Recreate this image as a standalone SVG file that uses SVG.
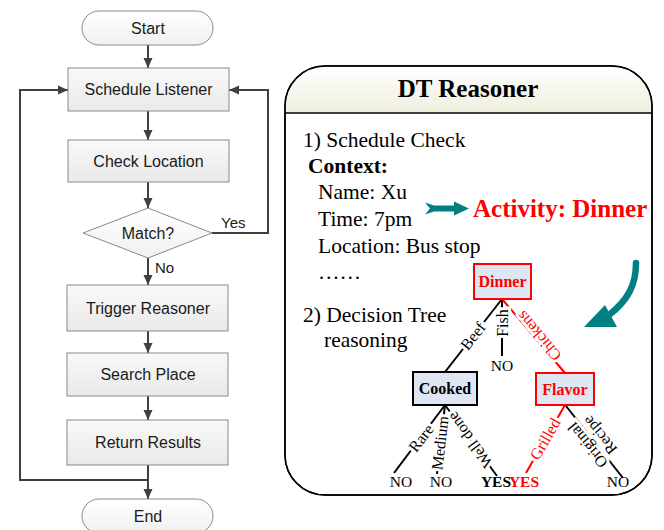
<svg xmlns="http://www.w3.org/2000/svg" width="664" height="530" viewBox="0 0 664 530">
<defs>
<linearGradient id="gbox" x1="0" y1="0" x2="0" y2="1"><stop offset="0" stop-color="#f9f9f9"/><stop offset="1" stop-color="#e9e9e9"/></linearGradient>
<linearGradient id="gterm" x1="0" y1="0" x2="0" y2="1"><stop offset="0" stop-color="#ffffff"/><stop offset="1" stop-color="#f0f0f0"/></linearGradient>
<linearGradient id="ghead" x1="0" y1="0" x2="0" y2="1"><stop offset="0" stop-color="#ffffff"/><stop offset="1" stop-color="#eeeede"/></linearGradient>
<marker id="ah" markerWidth="10" markerHeight="10" refX="10" refY="5" orient="auto" markerUnits="userSpaceOnUse"><path d="M0,0.5 L10,5 L0,9.5 Z" fill="#404040"/></marker>
</defs>
<style>
.box{fill:url(#gbox);stroke:#8a8a8a;stroke-width:1}
.term{fill:url(#gterm);stroke:#8a8a8a;stroke-width:1}
.ft{font-family:"Liberation Sans",Arial,sans-serif;font-size:16px;fill:#1a1a1a;text-anchor:middle}
.fl{font-family:"Liberation Sans",Arial,sans-serif;font-size:15px;fill:#1a1a1a}
.conn{fill:none;stroke:#404040;stroke-width:2}
.ser{font-family:"Liberation Serif","Times New Roman",serif;font-size:21.5px;fill:#000}
.tn{fill:#dde6f2;stroke-width:2}
.tb{font-family:"Liberation Serif","Times New Roman",serif;font-size:16px;font-weight:bold;text-anchor:middle}
.el{font-family:"Liberation Serif","Times New Roman",serif;font-size:16px;text-anchor:middle;dominant-baseline:central;paint-order:stroke;stroke:#fff;stroke-width:6px}
.lf{font-family:"Liberation Serif","Times New Roman",serif;font-size:15.5px;text-anchor:middle}
.tl{stroke-width:2;fill:none}
</style>

<g id="connectors">
<line class="conn" x1="148" y1="45" x2="148" y2="68" marker-end="url(#ah)"/>
<line class="conn" x1="148" y1="111" x2="148" y2="140" marker-end="url(#ah)"/>
<line class="conn" x1="148" y1="182" x2="148" y2="208" marker-end="url(#ah)"/>
<line class="conn" x1="148" y1="258" x2="148" y2="285" marker-end="url(#ah)"/>
<line class="conn" x1="148" y1="331" x2="148" y2="353" marker-end="url(#ah)"/>
<line class="conn" x1="148" y1="396" x2="148" y2="420" marker-end="url(#ah)"/>
<line class="conn" x1="148" y1="465" x2="148" y2="499" marker-end="url(#ah)"/>
<polyline class="conn" points="212,233 268,233 268,90 229,90" marker-end="url(#ah)"/>
<polyline class="conn" points="148,480 20,480 20,90 68,90" marker-end="url(#ah)"/>
<text class="fl" x="221" y="228">Yes</text>
<text class="fl" x="155" y="273">No</text>
</g>

<g id="start"><rect class="term" x="82" y="11" width="131" height="34" rx="17"/><text class="ft" x="148" y="33.5">Start</text></g>
<g id="schedule-listener"><rect class="box" x="68" y="68" width="161" height="43"/><text class="ft" x="148.5" y="95">Schedule Listener</text></g>
<g id="check-location"><rect class="box" x="68" y="140" width="161" height="42"/><text class="ft" x="148.5" y="166.5">Check Location</text></g>
<g id="match"><polygon class="term" points="148,208 212,233 148,258 83,233"/><text class="ft" x="148" y="238.5">Match?</text></g>
<g id="trigger-reasoner"><rect class="box" x="67" y="285" width="161" height="46"/><text class="ft" x="148" y="313.5">Trigger Reasoner</text></g>
<g id="search-place"><rect class="box" x="67" y="353" width="161" height="43"/><text class="ft" x="148" y="380">Search Place</text></g>
<g id="return-results"><rect class="box" x="67" y="420" width="161" height="45"/><text class="ft" x="148" y="448">Return Results</text></g>
<g id="end"><rect class="term" x="82" y="499" width="131" height="34" rx="17"/><text class="ft" x="148" y="522">End</text></g>

<g id="dt-reasoner">
<rect x="285" y="66" width="367" height="429" rx="40" fill="#fff" stroke="#000" stroke-width="1.5"/>
<path d="M285.75,113 V106 A40,40 0 0 1 325,66.75 H612 A40,40 0 0 1 651.25,106 V113 Z" fill="url(#ghead)"/>
<rect x="285" y="66" width="367" height="429" rx="40" fill="none" stroke="#000" stroke-width="1.5"/>
<line x1="285" y1="113" x2="652" y2="113" stroke="#000" stroke-width="1.5"/>
<text x="468" y="97" text-anchor="middle" style="font-family:'Liberation Serif','Times New Roman',serif;font-size:25px;font-weight:bold">DT Reasoner</text>
<text class="ser" x="303" y="147">1) Schedule Check</text>
<text class="ser" x="308" y="173" font-weight="bold">Context:</text>
<text class="ser" x="318" y="199">Name: Xu</text>
<text class="ser" x="318" y="226">Time: 7pm</text>
<text class="ser" x="318" y="253">Location: Bus stop</text>
<text class="ser" x="318" y="279">……</text>
<text class="ser" x="303" y="322">2) Decision Tree</text>
<text class="ser" x="324" y="347">reasoning</text>
<polygon points="425,202.5 434,205.5 454,205.5 454,201.5 469,208.5 454,215.5 454,211.5 434,211.5 425,214.5 430,208.5" fill="#008080"/>
<text x="473" y="217" style="font-family:'Liberation Serif','Times New Roman',serif;font-size:25px;font-weight:bold;fill:#ff0000">Activity: Dinner</text>
<path d="M636,263 C636,285 628,300 609,315" fill="none" stroke="#008080" stroke-width="6.5" stroke-linecap="round"/>
<polygon points="584,327 605,305 617,327" fill="#008080"/>
</g>

<g id="tree-edges">
<line class="tl" x1="502" y1="299" x2="445" y2="372" stroke="#000"/>
<line class="tl" x1="502" y1="299" x2="502" y2="356" stroke="#000"/>
<line class="tl" x1="502" y1="299" x2="565" y2="373" stroke="#ff0000"/>
<line class="tl" x1="445" y1="405" x2="394" y2="473" stroke="#000"/>
<line class="tl" x1="445" y1="405" x2="437" y2="474" stroke="#000"/>
<line class="tl" x1="445" y1="405" x2="497" y2="476" stroke="#000"/>
<line class="tl" x1="565" y1="405" x2="526" y2="473" stroke="#ff0000"/>
<line class="tl" x1="566" y1="406" x2="623" y2="478" stroke="#000"/>
<text class="el" transform="translate(473,336) rotate(-52)">Beef</text>
<text class="el" transform="translate(502,323) rotate(-90)">Fish</text>
<text class="el" transform="translate(539,336) rotate(-130)" fill="#ff0000">Chickens</text>
<text class="el" transform="translate(421,438) rotate(-53)">Rare</text>
<text class="el" transform="translate(440,443) rotate(-83)">Medium</text>
<text class="el" transform="translate(470,440) rotate(-126)">Well done</text>
<text class="el" transform="translate(545,439) rotate(-60)" fill="#ff0000">Grilled</text>
<text class="lf" transform="translate(594,440) rotate(-129)" style="font-size:16px;paint-order:stroke;stroke:#fff;stroke-width:6px"><tspan x="0" y="-3">Original</tspan><tspan x="0" y="13">Recipe</tspan></text>
<text class="lf" x="502" y="371">NO</text>
<text class="lf" x="401" y="487">NO</text>
<text class="lf" x="441" y="487">NO</text>
<text class="lf" x="496" y="487" font-weight="bold">YES</text>
<text class="lf" x="524" y="487" font-weight="bold" fill="#ff0000">YES</text>
<text class="lf" x="618" y="487">NO</text>
</g>

<g id="dinner"><rect class="tn" x="474" y="264" width="57" height="35" stroke="#ff0000"/><text class="tb" x="502.5" y="287" fill="#ff0000">Dinner</text></g>
<g id="cooked"><rect class="tn" x="413" y="372" width="64" height="33" stroke="#000"/><text class="tb" x="445" y="394" fill="#000">Cooked</text></g>
<g id="flavor"><rect class="tn" x="536" y="373" width="58" height="32" stroke="#ff0000"/><text class="tb" x="565" y="394.5" fill="#ff0000">Flavor</text></g>
</svg>
